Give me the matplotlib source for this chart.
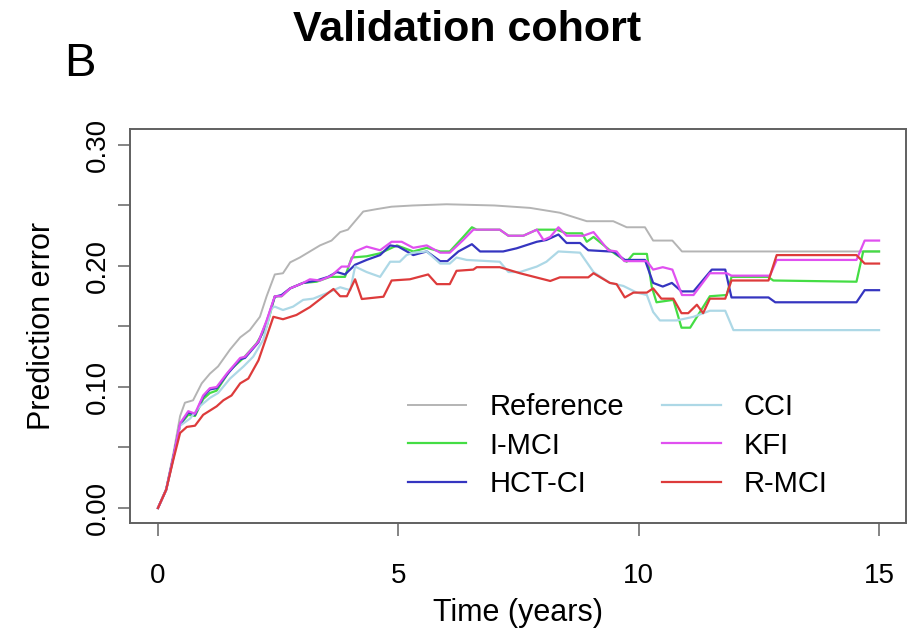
import matplotlib
matplotlib.use("Agg")
import matplotlib.pyplot as plt

plt.rcParams["font.family"] = ["Liberation Sans", "DejaVu Sans"]

# ---------------------------------------------------------------------------
# Prediction error curves
# ---------------------------------------------------------------------------
REF_T = [0, 0.17, 0.32, 0.46, 0.56, 0.73, 0.91, 1.08, 1.25, 1.5, 1.71, 1.91,
         2.12, 2.26, 2.43, 2.6, 2.75, 2.95, 3.16, 3.37, 3.61, 3.79, 3.95, 4.27,
         4.55, 4.86, 5.3, 6.0, 7.0, 7.74, 8.36, 8.92, 9.2, 9.47, 9.75, 10.13,
         10.3, 10.7, 10.9, 15.0]
REF_V = [0, 0.016, 0.045, 0.076, 0.087, 0.089, 0.103, 0.111, 0.117, 0.131,
         0.141, 0.147, 0.158, 0.175, 0.193, 0.194, 0.203, 0.207, 0.212, 0.217,
         0.221, 0.228, 0.230, 0.245, 0.247, 0.249, 0.250, 0.251, 0.250, 0.248,
         0.244, 0.237, 0.237, 0.237, 0.232, 0.232, 0.221, 0.221, 0.212, 0.212]

IMCI_T = [0, 0.17, 0.32, 0.46, 0.63, 0.77, 0.94, 1.08, 1.22, 1.5, 1.78, 2.05,
          2.26, 2.43, 2.57, 2.75, 3.02, 3.3, 3.58, 3.89, 4.03, 4.34, 4.62, 4.97,
          5.31, 5.59, 5.87, 6.07, 6.35, 6.53, 6.63, 7.11, 7.29, 7.6, 7.88, 8.29,
          8.5, 8.82, 8.92, 9.06, 9.4, 9.75, 9.89, 10.17, 10.27, 10.37, 10.72,
          10.89, 11.07, 11.48, 11.83, 11.93, 12.69, 12.8, 14.53, 14.67, 15.0]
IMCI_V = [0, 0.015, 0.042, 0.069, 0.077, 0.076, 0.090, 0.095, 0.097, 0.114,
          0.124, 0.136, 0.150, 0.175, 0.175, 0.1815, 0.186, 0.187, 0.191, 0.191,
          0.207, 0.208, 0.2105, 0.217, 0.212, 0.215, 0.212, 0.212, 0.224, 0.232,
          0.230, 0.230, 0.225, 0.225, 0.230, 0.230, 0.227, 0.227, 0.220, 0.224,
          0.213, 0.2035, 0.210, 0.210, 0.183, 0.170, 0.172, 0.149, 0.149, 0.175,
          0.176, 0.191, 0.191, 0.188, 0.187, 0.212, 0.212]

HCT_T = [0, 0.17, 0.32, 0.46, 0.63, 0.77, 0.94, 1.08, 1.22, 1.43, 1.71, 1.81,
         2.09, 2.26, 2.43, 2.57, 2.75, 3.02, 3.3, 3.54, 3.72, 3.89, 4.1, 4.34,
         4.62, 4.83, 5.0, 5.31, 5.59, 5.87, 6.02, 6.25, 6.53, 6.7, 7.18, 7.46,
         7.88, 8.08, 8.33, 8.5, 8.78, 8.95, 9.4, 9.47, 9.71, 10.13, 10.3, 10.5,
         10.69, 10.89, 11.14, 11.52, 11.8, 11.93, 12.7, 12.84, 14.53, 14.7, 15.0]
HCT_V = [0, 0.015, 0.042, 0.069, 0.079, 0.077, 0.092, 0.098, 0.099, 0.110,
         0.123, 0.124, 0.137, 0.154, 0.1746, 0.176, 0.1815, 0.186, 0.188, 0.191,
         0.195, 0.193, 0.201, 0.205, 0.209, 0.217, 0.216, 0.209, 0.212, 0.204,
         0.204, 0.212, 0.218, 0.212, 0.212, 0.2146, 0.220, 0.2215, 0.226, 0.219,
         0.219, 0.213, 0.212, 0.212, 0.205, 0.205, 0.186, 0.183, 0.186, 0.179,
         0.179, 0.197, 0.197, 0.174, 0.174, 0.170, 0.170, 0.180, 0.180]

CCI_T = [0, 0.17, 0.32, 0.46, 0.67, 0.87, 1.08, 1.25, 1.5, 1.78, 1.98, 2.19,
         2.36, 2.43, 2.6, 2.81, 3.02, 3.23, 3.51, 3.79, 4.0, 4.1, 4.34, 4.62,
         4.83, 5.03, 5.17, 5.31, 5.59, 5.87, 6.07, 6.21, 6.42, 7.11, 7.29, 7.53,
         7.88, 8.08, 8.33, 8.78, 9.06, 9.4, 9.68, 9.96, 10.17, 10.3, 10.44,
         10.79, 11.14, 11.48, 11.8, 11.97, 15.0]
CCI_V = [0, 0.015, 0.041, 0.068, 0.074, 0.084, 0.091, 0.095, 0.107, 0.117,
         0.125, 0.139, 0.165, 0.1664, 0.1636, 0.1664, 0.172, 0.173, 0.1775,
         0.1824, 0.180, 0.1995, 0.195, 0.191, 0.2035, 0.2035, 0.209, 0.211,
         0.212, 0.202, 0.202, 0.207, 0.205, 0.2035, 0.195, 0.195, 0.1995, 0.2035,
         0.212, 0.211, 0.195, 0.186, 0.1835, 0.178, 0.176, 0.162, 0.155, 0.155,
         0.158, 0.163, 0.163, 0.147, 0.147]

KFI_T = [0, 0.17, 0.32, 0.46, 0.63, 0.77, 0.94, 1.08, 1.22, 1.43, 1.71, 1.81,
         2.09, 2.26, 2.43, 2.57, 2.75, 3.02, 3.16, 3.37, 3.61, 3.82, 3.96, 4.1,
         4.34, 4.62, 4.86, 5.07, 5.31, 5.59, 5.87, 6.07, 6.35, 6.56, 7.11, 7.29,
         7.6, 7.88, 8.02, 8.16, 8.33, 8.5, 8.85, 9.06, 9.37, 9.54, 9.7, 10.17,
         10.3, 10.5, 10.7, 10.9, 11.14, 11.48, 11.83, 11.93, 12.73, 12.87, 14.53,
         14.7, 15.0]
KFI_V = [0, 0.015, 0.042, 0.070, 0.080, 0.078, 0.093, 0.099, 0.100, 0.111,
         0.124, 0.125, 0.1375, 0.155, 0.175, 0.175, 0.1815, 0.186, 0.189, 0.188,
         0.192, 0.1995, 0.1995, 0.212, 0.216, 0.213, 0.220, 0.220, 0.215, 0.217,
         0.211, 0.211, 0.2215, 0.230, 0.230, 0.225, 0.225, 0.230, 0.2215, 0.224,
         0.232, 0.225, 0.225, 0.228, 0.213, 0.212, 0.204, 0.204, 0.197, 0.199,
         0.197, 0.176, 0.176, 0.194, 0.194, 0.192, 0.192, 0.205, 0.205, 0.221,
         0.221]

RMCI_T = [0, 0.17, 0.32, 0.46, 0.6, 0.77, 0.94, 1.22, 1.36, 1.53, 1.71, 1.88,
          2.09, 2.26, 2.4, 2.6, 2.88, 3.16, 3.44, 3.65, 3.79, 3.93, 4.1, 4.24,
          4.69, 4.86, 5.24, 5.62, 5.8, 6.07, 6.21, 6.56, 6.63, 7.11, 7.53, 8.16,
          8.36, 8.95, 9.06, 9.4, 9.54, 9.71, 9.89, 10.17, 10.3, 10.47, 10.72,
          10.89, 11.03, 11.21, 11.34, 11.48, 11.8, 11.93, 12.7, 12.87, 14.53,
          14.7, 15.0]
RMCI_V = [0, 0.015, 0.040, 0.062, 0.067, 0.068, 0.077, 0.084, 0.089, 0.093,
          0.103, 0.107, 0.122, 0.1416, 0.158, 0.156, 0.1595, 0.166, 0.1746, 0.181,
          0.175, 0.175, 0.189, 0.1727, 0.1746, 0.188, 0.189, 0.193, 0.185, 0.185,
          0.196, 0.197, 0.199, 0.199, 0.194, 0.1876, 0.1906, 0.1906, 0.194, 0.186,
          0.185, 0.174, 0.178, 0.178, 0.1815, 0.173, 0.173, 0.161, 0.161, 0.168,
          0.161, 0.173, 0.173, 0.188, 0.188, 0.209, 0.209, 0.202, 0.202]

# legend order (R fills the two columns top to bottom)
SERIES = [
    ("Reference", REF_T, REF_V, "#b4b4b4", 1.4),
    ("I-MCI", IMCI_T, IMCI_V, "#44dd44", 1.6),
    ("HCT-CI", HCT_T, HCT_V, "#3535c0", 1.6),
    ("CCI", CCI_T, CCI_V, "#add8e6", 1.6),
    ("KFI", KFI_T, KFI_V, "#e050f0", 1.6),
    ("R-MCI", RMCI_T, RMCI_V, "#dd3b3b", 1.6),
]

X_TICKS = [0, 5, 10, 15]
Y_TICKS = [0.0, 0.05, 0.10, 0.15, 0.20, 0.25, 0.30]
Y_LABELS = ["0.00", "", "0.10", "", "0.20", "", "0.30"]

W, H = 909, 635
fig = plt.figure(figsize=(W / 100, H / 100), dpi=100)
ax = fig.add_axes([130 / W, 1 - 523 / H, (906 - 130) / W, (523 - 129) / H])

for name, t, v, col, lw in SERIES:
    ax.plot(t, v, color=col, lw=lw, label=name, solid_joinstyle="round")

ax.set_xlim(-0.582, 15.56)
ax.set_ylim(-0.0124, 0.3132)
ax.set_xticks(X_TICKS)
ax.set_xticklabels([str(x) for x in X_TICKS])
ax.set_yticks(Y_TICKS)
ax.set_yticklabels(Y_LABELS, rotation=90, va="center")

for s in ax.spines.values():
    s.set_color("#606060")
    s.set_linewidth(1.4)
ax.tick_params(axis="both", direction="out", length=9, width=1.2,
               color="#707070", labelsize=20)
ax.tick_params(axis="x", pad=20)
ax.tick_params(axis="y", pad=5)

ax.set_xlabel("Time (years)", fontsize=22, labelpad=6)
ax.set_ylabel("Prediction error", fontsize=22, labelpad=20)

leg = ax.legend(ncol=2, frameon=False, fontsize=21, loc="upper left",
                bbox_to_anchor=(408 / W, 1 - 393 / H),
                bbox_transform=fig.transFigure, borderpad=0,
                borderaxespad=0, handlelength=2.0, handletextpad=0.8,
                columnspacing=1.3, labelspacing=0.36)

fig.text(467 / W, 1 - 30 / H, "Validation cohort", ha="center", va="center",
         fontsize=31, fontweight="bold")
fig.text(80 / W, 1 - 64 / H, "B", ha="center", va="center", fontsize=34)

fig.savefig("out.png", dpi=100)
